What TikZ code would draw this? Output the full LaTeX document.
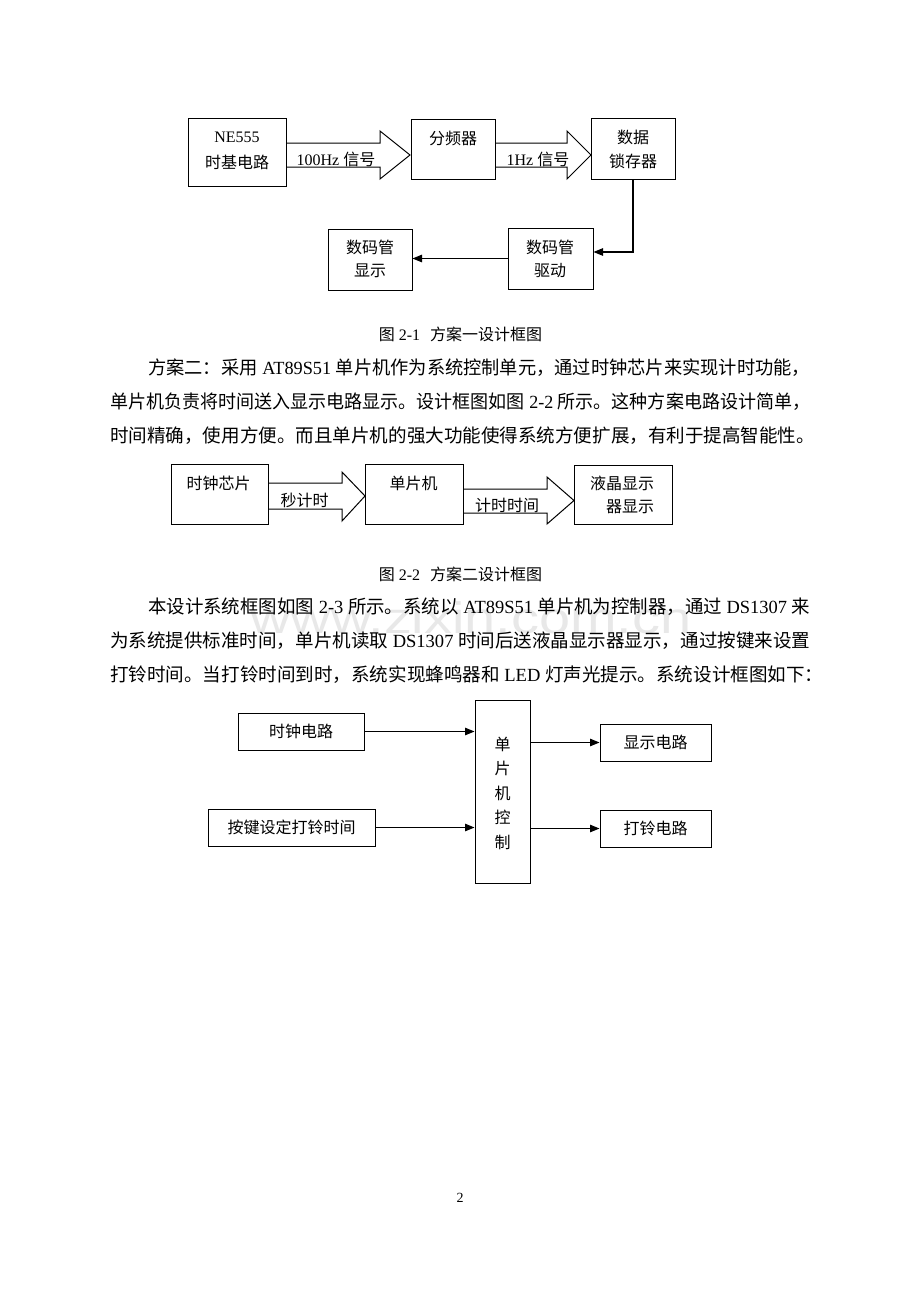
\documentclass[tikz,border=0pt]{standalone}
\usepackage{fontspec}
\usepackage{graphicx}
\setmainfont{Noto Sans CJK SC}
\newfontfamily\lat{Liberation Serif}
\newfontfamily\wmfont{Liberation Sans}
\usetikzlibrary{arrows.meta}
\newcommand\fs[1]{\fontsize{#1}{#1}\selectfont}
\newcommand\en[1]{{\lat\space#1\space}}
\newcommand\bx[5]{\node[box,minimum width={#4-#2},minimum height={#5-#3}] (#1) at ({(#2+#4)/2},{(#3+#5)/2}) {};}
\begin{document}
\begin{tikzpicture}[x=1pt,y=-1pt,
  box/.style={draw,line width=1pt,inner sep=0pt},
  txt/.style={inner sep=0pt,font=\fs{16}},
  arr/.style={line width=1.05pt,-{Triangle[length=9.5pt,width=7.5pt]}},
  fat/.style={line width=1pt,line join=miter},
  body/.style={inner sep=0pt,anchor=west,font=\fs{18.55}},
  capt/.style={inner sep=0pt,font=\fs{16}}]
\useasboundingbox[fill=white] (0,0) rectangle (920,1302);

% watermark
\node[inner sep=0pt,anchor=base,font=\wmfont\fs{44},text=black!9] (wm) at (471,633) {\scalebox{1.27}[1]{www.zixin.com.cn}};

% ---------- Figure 2-1 ----------
\bx{ne}{188}{118}{286}{186}
\node[txt] (neA) at (237,137) {{\lat NE555}};
\node[txt] (neB) at (237,162) {时基电路};
\draw[fat] (286,143) -- (380,143) -- (380,131) -- (410,155) -- (380,179) -- (380,167) -- (286,167);
\node[txt] (l1) at (336,159) {{\lat 100Hz }信号};
\bx{fp}{411}{119}{495}{179}
\node[txt] (fpT) at (453,138) {分频器};
\draw[fat] (495,143) -- (567,143) -- (567,131) -- (591,155) -- (567,179) -- (567,167) -- (495,167);
\node[txt] (l2) at (538,159) {{\lat 1Hz }信号};
\bx{lt}{591}{118}{675}{179}
\node[txt] (ltA) at (633,137) {数据};
\node[txt] (ltB) at (633,161) {锁存器};
\bx{drv}{508}{228}{593}{289}
\node[txt] (drvA) at (550,247) {数码管};
\node[txt] (drvB) at (550,271) {驱动};
\bx{dsp}{328}{229}{412}{290}
\node[txt] (dspA) at (370,247) {数码管};
\node[txt] (dspB) at (370,271) {显示};
\coordinate (bend) at (633,252);
\draw[arr] (lt.south) -- (bend) -- (drv.east |- bend);
\draw[arr] (drv.west) -- (dsp.east |- drv.west);

\node[capt] (c1) at (460.5,334) {图{\lat\ 2-1}\hspace{10pt}方案一设计框图};

% ---------- paragraph 1 ----------
\node[body] (p1a) at (148,368) {\resizebox{662pt}{\height}{方案二：采用\en{AT89S51}单片机作为系统控制单元，通过时钟芯片来实现计时功能，}};
\node[body] (p1b) at (110,402) {\resizebox{700pt}{\height}{单片机负责将时间送入显示电路显示。设计框图如图\en{2-2}所示。这种方案电路设计简单，}};
\node[body] (p1c) at (110,436) {时间精确，使用方便。而且单片机的强大功能使得系统方便扩展，有利于提高智能性。};

% ---------- Figure 2-2 ----------
\bx{clk2}{171}{464}{268}{524}
\node[txt] (clk2T) at (218.5,483) {时钟芯片};
\draw[fat] (268,483) -- (342,483) -- (342,472) -- (365,496) -- (342,521) -- (342,509) -- (268,509);
\node[txt] (l3) at (304.5,500) {秒计时};
\bx{mcu2}{365}{464}{463}{524}
\node[txt] (mcu2T) at (413.5,483) {单片机};
\draw[fat] (463,489) -- (547,489) -- (547,477) -- (574,500.5) -- (547,524) -- (547,513) -- (463,513);
\node[txt] (l4) at (507,505) {计时时间};
\bx{lcd}{574}{465}{672}{524}
\node[txt] (lcdA) at (622,483) {液晶显示};
\node[txt] (lcdB) at (630,507) {器显示};

\node[capt] (c2) at (460.5,574) {图{\lat\ 2-2}\hspace{10pt}方案二设计框图};

% ---------- paragraph 2 ----------
\node[body] (p2a) at (148,607) {\resizebox{662pt}{\height}{本设计系统框图如图\en{2-3}所示。系统以\en{AT89S51}单片机为控制器，通过\en{DS1307}来}};
\node[body] (p2b) at (110,641) {\resizebox{700pt}{\height}{为系统提供标准时间，单片机读取\en{DS1307}时间后送液晶显示器显示，通过按键来设置}};
\node[body] (p2c) at (110,675) {打铃时间。当打铃时间到时，系统实现蜂鸣器和\en{LED}灯声光提示。系统设计框图如下：};

% ---------- Figure 2-3 ----------
\bx{clk}{238}{713}{364}{750}
\node[txt] (clkT) at (301,731.5) {时钟电路};
\bx{key}{208}{809}{375}{846}
\node[txt] (keyT) at (291.5,827.5) {按键设定打铃时间};
\bx{mcu}{475}{700}{530}{883}
\node[txt] (m1) at (502.5,744) {单};
\node[txt] (m2) at (502.5,768.5) {片};
\node[txt] (m3) at (502.5,793) {机};
\node[txt] (m4) at (502.5,817.5) {控};
\node[txt] (m5) at (502.5,842) {制};
\bx{disp}{600}{724}{711}{761}
\node[txt] (dispT) at (655.5,742.5) {显示电路};
\bx{bell}{600}{810}{711}{847}
\node[txt] (bellT) at (655.5,828.5) {打铃电路};
\draw[arr] (clk.east) -- (mcu.west |- clk.east);
\draw[arr] (key.east) -- (mcu.west |- key.east);
\draw[arr] (mcu.east |- disp.west) -- (disp.west);
\draw[arr] (mcu.east |- bell.west) -- (bell.west);

\node[inner sep=0pt,font=\lat\fs{14}] (pg) at (460,1198) {2};
\end{tikzpicture}
\end{document}
